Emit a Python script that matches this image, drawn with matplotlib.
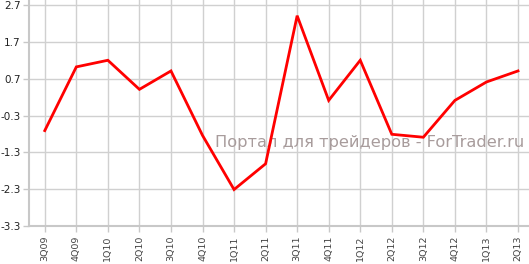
import matplotlib
matplotlib.use("Agg")
import matplotlib.pyplot as plt

quarters = ["3Q09", "4Q09", "1Q10", "2Q10", "3Q10", "4Q10", "1Q11", "2Q11",
            "3Q11", "4Q11", "1Q12", "2Q12", "3Q12", "4Q12", "1Q13", "2Q13"]
values = [-0.71, 1.02, 1.20, 0.41, 0.91, -0.84, -2.31, -1.61,
          2.41, 0.11, 1.20, -0.81, -0.89, 0.11, 0.61, 0.91]
yticks = [2.7, 1.7, 0.7, -0.3, -1.3, -2.3, -3.3]
watermark = "Портал для трейдеров - ForTrader.ru"

W, H = 529, 264
fig = plt.figure(figsize=(W / 100, H / 100), dpi=100)
ax = fig.add_axes([29 / W, 38 / H, 1 - 29 / W, 1 - 38 / H])

x = list(range(len(quarters)))
ax.plot(x, values, color="#ff0000", lw=2.0, zorder=5, solid_joinstyle="miter")

ax.set_xlim(-0.5, len(quarters) - 1 + 11 / 31.5)
ax.set_ylim(-3.3, 2.7 + 5 / 36.7)
ax.set_yticks(yticks)
ax.set_yticklabels([f"{v:.1f}" for v in yticks], fontsize=7.5, color="#222222")
ax.set_xticks(x)
ax.set_xticklabels(quarters, rotation=90, fontsize=6.8, color="#444444")

ax.grid(True, color="#d0d0d0", lw=1.0)
ax.set_axisbelow(True)
for s in ["top", "right"]:
    ax.spines[s].set_visible(False)
for s in ["left", "bottom"]:
    ax.spines[s].set_color("#c8c8c8")
    ax.spines[s].set_linewidth(1.5)
ax.tick_params(axis="both", colors="#c8c8c8", length=4, width=1)
ax.tick_params(axis="y", labelcolor="#222222", pad=2)
ax.tick_params(axis="x", labelcolor="#444444", pad=3)

ax.text(0.99, (226 - 143) / 226, watermark, transform=ax.transAxes,
        ha="right", va="center", fontsize=11.7, color="#a89c9c", zorder=4)

fig.savefig("out.png", dpi=100)
